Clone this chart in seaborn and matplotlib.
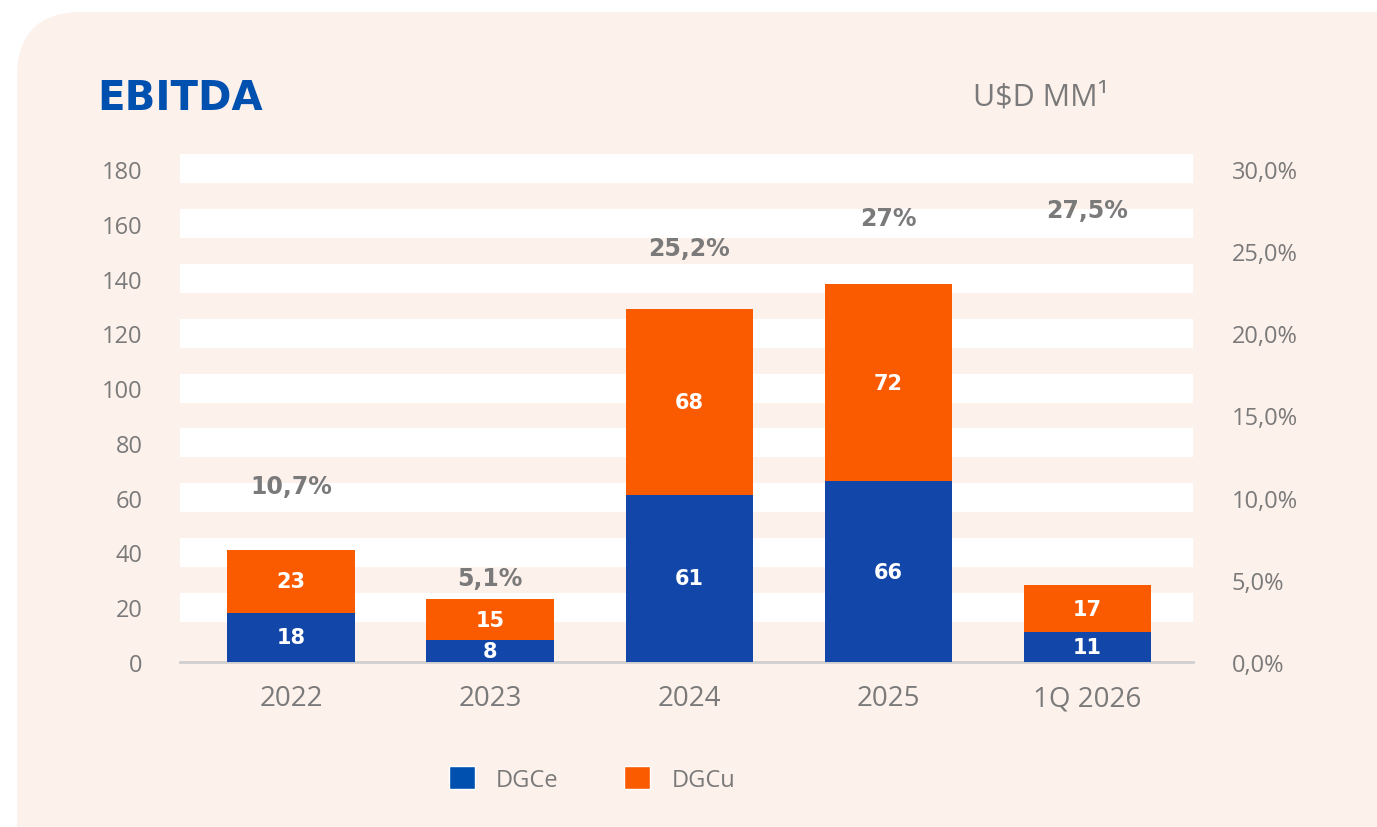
import numpy as np
import pandas as pd
import matplotlib
matplotlib.use("Agg")
import matplotlib.pyplot as plt
import seaborn as sns
from matplotlib.patches import FancyBboxPatch, Patch

# data
years = ["2022", "2023", "2024", "2025", "1Q 2026"]
dgce = [18, 8, 61, 66, 11]
dgcu = [23, 15, 68, 72, 17]
margin = [0.107, 0.051, 0.252, 0.270, 0.275]
margin_labels = ["10,7%", "5,1%", "25,2%", "27%", "27,5%"]
left_ticks = [0, 20, 40, 60, 80, 100, 120, 140, 160, 180]
right_ticks = [0.0, 0.05, 0.10, 0.15, 0.20, 0.25, 0.30]

BLUE = "#1246a8"
BLUE_LEG = "#0050b0"
ORANGE = "#fa5a00"
GRAY = "#7a7a7a"
PEACH = "#fdf1ec"

sns.set_theme(style="white")
plt.rcParams["font.family"] = ["Open Sans", "DejaVu Sans"]

df = pd.DataFrame({"year": years, "DGCe": dgce, "DGCu": dgcu})
df["total"] = df["DGCe"] + df["DGCu"]

W, H = 1377, 828
fig = plt.figure(figsize=(W / 100, H / 100), dpi=100, facecolor="white")

# rounded peach panel behind everything
bg = fig.add_axes([0, 0, 1, 1], zorder=0)
bg.set_xlim(0, W)
bg.set_ylim(H, 0)
bg.axis("off")
bg.add_patch(FancyBboxPatch((17, 13), 1420, 880, boxstyle="round,pad=0,rounding_size=65",
                            facecolor=PEACH, edgecolor="none"))

ax = fig.add_axes([180 / W, (H - 663) / H, 1013 / W, (663 - 153.5) / H], zorder=1)
ax.patch.set_alpha(0)

for t in left_ticks[1:]:
    ax.axhspan(t - 5.3, t + 5.3, color="white", zorder=0, lw=0)

sns.barplot(data=df, x="year", y="total", color=ORANGE, width=0.64, ax=ax,
            saturation=1, linewidth=0, zorder=2)
sns.barplot(data=df, x="year", y="DGCe", color=BLUE, width=0.64, ax=ax,
            saturation=1, linewidth=0, zorder=3)

ax.set_ylim(0, 186)
ax.set_xlim(-0.558, 4.53)
ax.set_xlabel("")
ax.set_ylabel("")
ax.set_yticks(left_ticks)
ax.tick_params(axis="y", length=0, pad=27, labelsize=17, labelcolor=GRAY)
ax.tick_params(axis="x", length=0, pad=16, labelsize=20, labelcolor=GRAY)
for s in ["top", "right", "left"]:
    ax.spines[s].set_visible(False)
ax.spines["bottom"].set_color("#cfcfcf")
ax.spines["bottom"].set_linewidth(2)

for i in range(len(years)):
    ax.text(i, dgce[i] / 2, str(dgce[i]), ha="center", va="center", color="white",
            fontsize=15, fontweight="heavy", family="DejaVu Sans", zorder=5)
    ax.text(i, dgce[i] + dgcu[i] / 2, str(dgcu[i]), ha="center", va="center", color="white",
            fontsize=15, fontweight="heavy", family="DejaVu Sans", zorder=5)

ax2 = ax.twinx()
ax2.set_ylim(0, 0.31)
ax2.set_yticks(right_ticks)
ax2.set_yticklabels([f"{v * 100:.1f}%".replace(".", ",") for v in right_ticks])
ax2.tick_params(axis="y", length=0, pad=28, labelsize=17, labelcolor=GRAY)
for s in ax2.spines.values():
    s.set_visible(False)
ax2.grid(False)
for i, (m, lab) in enumerate(zip(margin, margin_labels)):
    ax2.text(i, m, lab, ha="center", va="center", color=GRAY, fontsize=17,
             fontweight="heavy", family="DejaVu Sans", zorder=6)

fig.text(97 / W, 1 - 110 / H, "EBITDA", color=BLUE_LEG, fontsize=29, fontweight="heavy",
         family="DejaVu Sans", ha="left", va="baseline")
fig.text(973 / W, 1 - 98 / H, "U$D MM¹", color=GRAY, fontsize=22, ha="left", va="center")

handles = [Patch(facecolor=BLUE_LEG, label="DGCe"), Patch(facecolor=ORANGE, label="DGCu")]
fig.legend(handles=handles, loc="center", bbox_to_anchor=(592 / W, 1 - 780 / H), ncol=2,
           frameon=False, fontsize=17, labelcolor=GRAY, handlelength=1.1, handleheight=1.1,
           columnspacing=2.8, handletextpad=0.9)

fig.savefig("out.png", dpi=100, facecolor="white")
